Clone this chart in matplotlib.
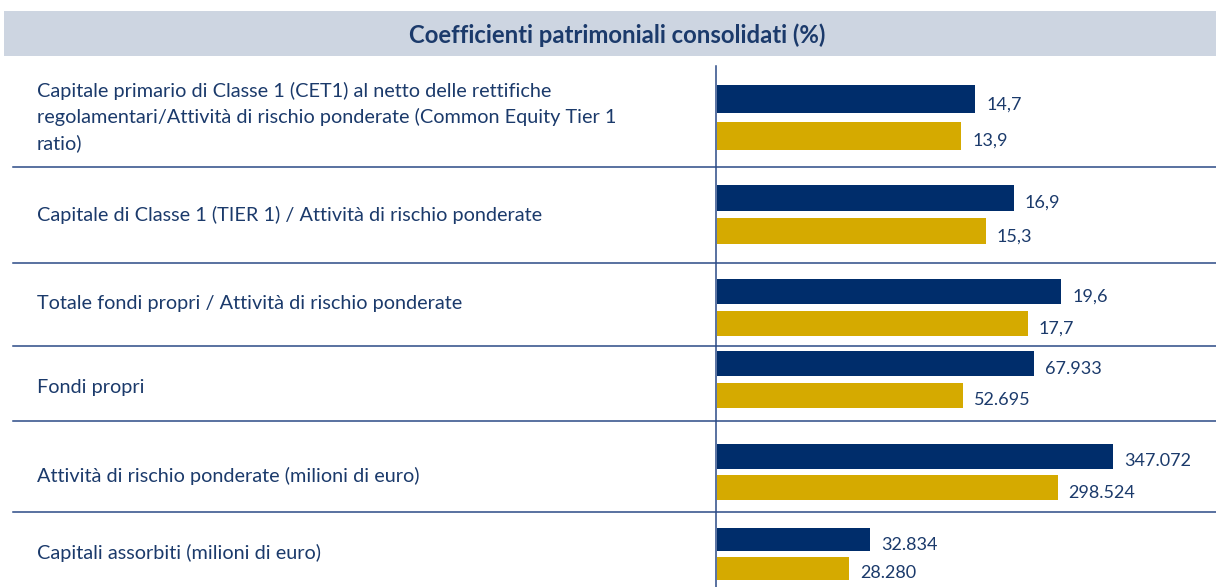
import matplotlib
matplotlib.use("Agg")
import matplotlib.pyplot as plt

plt.rcParams['font.family'] = ['Lato', 'DejaVu Sans']

# data (Italian formats: comma decimals, dot thousands)
labels = [
    "Capitale primario di Classe 1 (CET1) al netto delle rettifiche\nregolamentari/Attività di rischio ponderate (Common Equity Tier 1\nratio)",
    "Capitale di Classe 1 (TIER 1) / Attività di rischio ponderate",
    "Totale fondi propri / Attività di rischio ponderate",
    "Fondi propri",
    "Attività di rischio ponderate (milioni di euro)",
    "Capitali assorbiti (milioni di euro)",
]
current = [14.7, 16.9, 19.6, 67933, 347072, 32834]
previous = [13.9, 15.3, 17.7, 52695, 298524, 28280]
is_ratio = [True, True, True, False, False, False]

title = "Coefficienti patrimoniali consolidati (%)"

NAVY = "#002D6B"
GOLD = "#D5AA00"
TXT = "#1B3A6B"
BAND = "#CDD5E1"

W, H = 1216, 587
fig = plt.figure(figsize=(W / 100, H / 100), dpi=100)

# background axes in pixel coordinates for frame, lines and labels
bg = fig.add_axes([0, 0, 1, 1])
bg.set_xlim(0, W)
bg.set_ylim(H, 0)
bg.axis("off")

bg.add_patch(plt.Rectangle((4, 11), W - 4, 45, color=BAND, lw=0))
bg.text(617, 35, title, ha="center", va="center", fontsize=17.2,
        fontweight="bold", color=TXT)

for y in [167, 263, 346, 421, 512]:
    bg.plot([13, W], [y, y], color="#2B4A86", lw=1.1)
bg.plot([716, 716], [66, H], color="#2B4A86", lw=1.1)

# row layout (pixels): top/bottom of each bar pair, label y
rows = [(81, 154), (181, 248), (275, 340), (348, 411), (441, 503), (525, 583)]
label_y = [117, 215, 304, 388, 476, 553]
# px per unit for each row (rows share a scale within each group)
px_per_unit = [17.56, 17.56, 17.56, 0.004667, 0.001141, 0.004667]
bar_left = 717


def fmt(v, ratio):
    if ratio:
        return f"{v:.1f}".replace(".", ",")
    return f"{v:,.0f}".replace(",", ".")


for i, (top, bot) in enumerate(rows):
    bg.text(37, label_y[i], labels[i], ha="left", va="center", fontsize=14.3,
            color=TXT, linespacing=1.52)

    ax = fig.add_axes([bar_left / W, 1 - bot / H, (W - bar_left) / W, (bot - top) / H])
    ax.set_xlim(0, (W - bar_left) / px_per_unit[i])
    ax.set_ylim(1.5, -0.5)
    ax.axis("off")
    vals = [current[i], previous[i]]
    ax.barh([0, 1], vals, height=0.78, color=[NAVY, GOLD])
    for k, v in enumerate(vals):
        ax.annotate(fmt(v, is_ratio[i]), (v, k), xytext=(11, -5),
                    textcoords="offset pixels", ha="left", va="center",
                    fontsize=13, color=TXT)

fig.savefig("out.png", dpi=100)
